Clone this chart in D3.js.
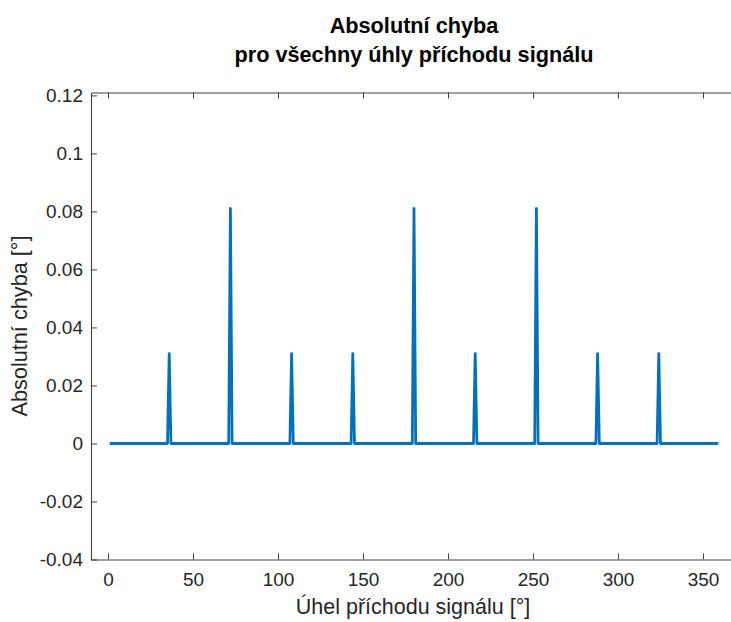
<!DOCTYPE html>
<head>
  <meta charset="utf-8">
  <script src="https://d3js.org/d3.v7.min.js"></script>
  <style>
    body {
      margin: 0;
      overflow: hidden;
      background: #fff;
    }
    svg text {
      font-family: Arial, 'Liberation Sans', Helvetica, sans-serif;
    }
  </style>
</head>
<body>
  <svg width="731" height="622"></svg>
  <script>
    // polyline vertices: flat zero with narrow spikes every 36 deg
    const angles = [1, 35, 36, 37, 71, 72, 73, 107, 108, 109, 143, 144, 145,
                    179, 180, 181, 215, 216, 217, 251, 252, 253, 287, 288, 289,
                    323, 324, 325, 359];
    const errors = [0, 0, 0.031, 0, 0, 0.081, 0, 0, 0.031, 0, 0, 0.031, 0,
                    0, 0.081, 0, 0, 0.031, 0, 0, 0.081, 0, 0, 0.031, 0,
                    0, 0.031, 0, 0];
    const xTicks = [0, 50, 100, 150, 200, 250, 300, 350];
    const yTicks = [-0.04, -0.02, 0, 0.02, 0.04, 0.06, 0.08, 0.1, 0.12];
    const titleLines = ['Absolutní chyba', 'pro všechny úhly příchodu signálu'];
    const xLabelText = 'Úhel příchodu signálu [°]';
    const yLabelText = 'Absolutní chyba [°]';

    (function (d3) {
      'use strict';

      const svg = d3.select('svg');
      const axisColor = '#404040';
      const textColor = '#262626';
      const fontFamily = "Arial, 'Liberation Sans', Helvetica, sans-serif";

      // plot box (right edge falls just past the window)
      const box = { left: 91, top: 92.5, right: 737, bottom: 559.5 };

      const x = d3.scaleLinear().domain([-10, 370]).range([box.left, box.right]);
      const y = d3.scaleLinear().domain([-0.04, 0.121]).range([box.bottom, box.top]);

      const tickLen = 6;

      const xAxis = d3.axisBottom(x).tickValues(xTicks).tickSizeInner(-tickLen)
        .tickSizeOuter(0).tickPadding(13).tickFormat(d3.format('d'));
      const yAxis = d3.axisLeft(y).tickValues(yTicks).tickSizeInner(-tickLen)
        .tickSizeOuter(0).tickPadding(8).tickFormat(d => d === 0 ? '0' : String(+d.toFixed(2)));

      const xG = svg.append('g')
        .attr('transform', `translate(0,${box.bottom})`)
        .call(xAxis);
      const yG = svg.append('g')
        .attr('transform', `translate(${box.left},0)`)
        .call(yAxis);

      // mirrored ticks on top and right, no labels
      const xTop = svg.append('g')
        .attr('transform', `translate(0,${box.top})`)
        .call(d3.axisTop(x).tickValues(xTicks).tickSizeInner(-tickLen).tickSizeOuter(0).tickFormat(''));
      const yRight = svg.append('g')
        .attr('transform', `translate(${box.right},0)`)
        .call(d3.axisRight(y).tickValues(yTicks).tickSizeInner(-tickLen).tickSizeOuter(0).tickFormat(''));

      [xG, yG, xTop, yRight].forEach(g => {
        g.attr('font-family', fontFamily).attr('font-size', 19);
        g.select('.domain').attr('stroke', axisColor).attr('stroke-width', 1.1);
        g.selectAll('.tick line').attr('stroke', axisColor).attr('stroke-width', 1);
        g.selectAll('.tick text').attr('fill', textColor);
      });

      const line = d3.line()
        .x((d, i) => x(angles[i]))
        .y(d => y(d));

      svg.append('path')
        .datum(errors)
        .attr('fill', 'none')
        .attr('stroke', '#0072BD')
        .attr('stroke-width', 2.8)
        .attr('stroke-linejoin', 'round')
        .attr('d', line);

      // title
      const title = svg.append('text')
        .attr('text-anchor', 'middle')
        .attr('fill', '#000')
        .attr('font-size', 21.7)
        .attr('font-weight', 'bold');
      titleLines.forEach((t, i) => {
        title.append('tspan')
          .attr('x', 414)
          .attr('y', 33 + i * 29)
          .text(t);
      });

      svg.append('text')
        .attr('x', 413)
        .attr('y', 614)
        .attr('text-anchor', 'middle')
        .attr('fill', textColor)
        .attr('font-size', 21.5)
        .text(xLabelText);

      svg.append('text')
        .attr('transform', `translate(27,${(box.top + box.bottom) / 2}) rotate(-90)`)
        .attr('text-anchor', 'middle')
        .attr('fill', textColor)
        .attr('font-size', 21.7)
        .text(yLabelText);
    }(d3));
  </script>
</body>
